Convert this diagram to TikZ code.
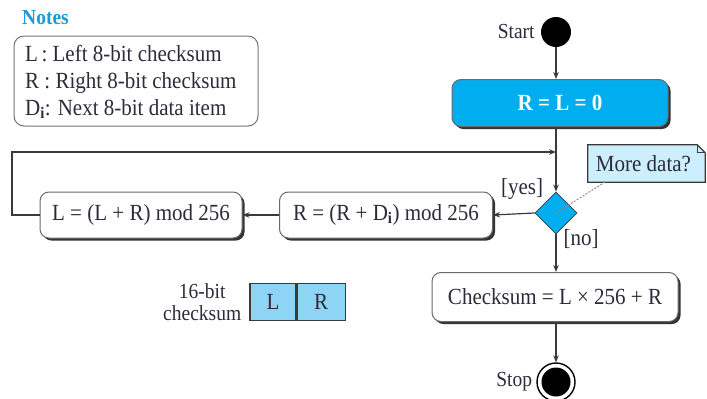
\documentclass[tikz,border=0pt]{standalone}
\usepackage{fontspec}
\usepackage{graphicx}
\setmainfont{Liberation Serif}
\usetikzlibrary{shapes.geometric,arrows.meta}

\definecolor{ink}{HTML}{2B2B3A}
\definecolor{linegray}{HTML}{3A3A3A}
\definecolor{boxedge}{HTML}{6A6A6A}
\definecolor{cyanfill}{HTML}{00AEEF}
\definecolor{cellfill}{HTML}{8DD4F5}
\definecolor{notefill}{HTML}{CDEEFC}
\definecolor{titleblue}{HTML}{1C9AD6}

\newcommand{\mainfont}{\fontsize{21}{25}\selectfont}
\newcommand{\smallfont}{\fontsize{19.5}{22}\selectfont}
% slightly tall lettering
\newcommand{\tall}[1]{\scalebox{1}[1.1]{#1}}

\tikzset{
  txt/.style={text=ink, inner sep=0pt},
  action/.style={draw=boxedge, line width=1pt, rounded corners=9pt, fill=white,
    text=ink, inner sep=0pt,
    preaction={fill=black!80, transform canvas={xshift=2.6pt, yshift=-2.6pt}}},
  startbox/.style={action, fill=cyanfill, text=white, font=\mainfont\bfseries},
  decision/.style={diamond, draw=linegray, line width=0.8pt, fill=cyanfill,
    inner sep=0pt, minimum width=42pt, minimum height=42pt},
  cell/.style={draw=linegray, line width=1.2pt, fill=cellfill, text=ink,
    minimum height=37pt, inner sep=0pt},
  flow/.style={draw=linegray, line width=1.2pt, -{Stealth[length=7pt,width=5.5pt]}},
  notesbox/.style={draw=black!55, line width=1pt, rounded corners=10pt},
}

\begin{document}
\begin{tikzpicture}[x=1pt, y=-1pt, font=\mainfont]
\useasboundingbox (0,0) rectangle (707,399);

% legend
\node[txt, anchor=base west, text=titleblue, font=\smallfont\bfseries] (ntitle) at (22,24) {\tall{Notes}};
\node[notesbox, minimum width=244pt, minimum height=90pt] (legend) at (136,81) {};
\node[txt, anchor=base west] (n1) at (25,61) {\tall{L\,: Left 8-bit checksum}};
\node[txt, anchor=base west] (n2) at (25,88) {\tall{R : Right 8-bit checksum}};
\node[txt, anchor=base west] (n3) at (25,115) {\tall{D\textsubscript{\textbf{i}}: Next 8-bit data item}};

% start and initialisation
\node[circle, fill=black, minimum size=30pt, inner sep=0pt] (start) at (556,32) {};
\node[txt, anchor=east, font=\smallfont] (startlbl) at ([xshift=-6pt]start.west) {\tall{Start}};
\node[startbox, minimum width=216pt, minimum height=47pt] (init) at (560,103) {\tall{R = L = 0}};

% loop body
\node[decision] (dec) at (556,213) {};
\node[action, minimum width=213pt, minimum height=46pt] (rbox) at (386,215) {\tall{R = (R + D\textsubscript{\textbf{i}}) mod 256}};
\node[action, minimum width=202pt, minimum height=46pt] (lbox) at (141,215) {\tall{L = (L + R) mod 256}};
\coordinate (merge) at (556,152);
\coordinate (loopcorner) at (12,152);

% result and end
\node[action, minimum width=246pt, minimum height=49pt] (chk) at (555,297) {\tall{Checksum = L × 256 + R}};
\node[circle, draw=black, line width=1.4pt, minimum size=38pt, inner sep=0pt] (stop) at (556,382) {};
\node[circle, fill=black, minimum size=29pt, inner sep=0pt] (stopdot) at (stop) {};
\node[txt, anchor=east, font=\smallfont] (stoplbl) at ([xshift=-4pt]stop.west) {\tall{Stop}};

% 16-bit checksum layout
\node[cell, minimum width=46pt] (lcell) at (273,302) {\tall{L}};
\node[cell, minimum width=48pt, anchor=west] (rcell) at (lcell.east) {\tall{R}};
\node[txt, align=center, anchor=east, font=\smallfont] (cslbl) at ([xshift=-8pt]lcell.west) {\tall{16-bit}\\\tall{checksum}};

% note attached to the decision
\node[minimum width=117pt, minimum height=37pt, inner sep=0pt] (note) at (646.5,163.5) {};
\fill[notefill] (note.south west) -- (note.north west) -- ([xshift=-8pt]note.north east)
  -- ([yshift=-8pt]note.north east) -- (note.south east) -- cycle;
\draw[linegray, line width=1.2pt] (note.north east) ++(0,8) -- (note.south east) -- (note.south west)
  -- (note.north west) -- ([xshift=-8pt]note.north east) -- ([yshift=-8pt]note.north east);
\draw[linegray, line width=0.8pt] ([xshift=-8pt]note.north east) |- ([yshift=-8pt]note.north east);
\node[txt] (notetxt) at ([xshift=-3pt]note.center) {\tall{More data?}};
\draw[black!45, line width=1pt, dash pattern=on 2pt off 1.5pt] (dec.center) -- ([xshift=17pt]note.south west);

% connectors
\draw[flow] (start) -- (init.north -| start);
\draw[flow] (init.south -| start) -- (dec.north);
\draw[flow] (lbox.west) -| (loopcorner) -- (merge);
\draw[flow] (dec.west) -- (rbox.east);
\draw[flow] (rbox.west) -- (lbox.east);
\draw[flow] (dec.south) -- (chk.north -| dec);
\draw[flow] (chk.south -| stop) -- (stop.north);

\node[txt] (yes) at (522,189) {\tall{[yes]}};
\node[txt] (no) at (581,239) {\tall{[no]}};
\end{tikzpicture}
\end{document}
